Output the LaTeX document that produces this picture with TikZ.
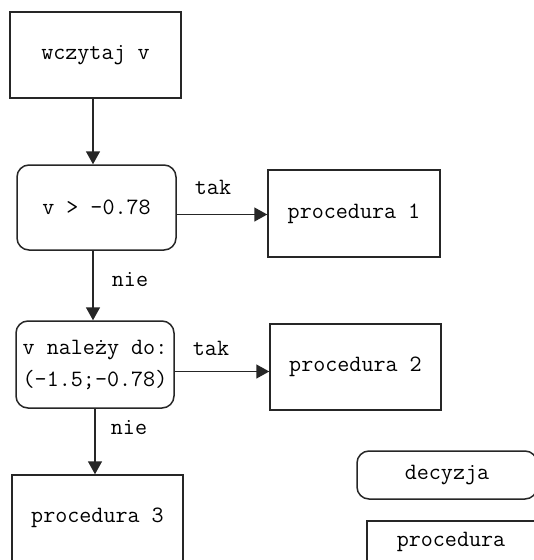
\documentclass[tikz,border=0pt]{standalone}
\usetikzlibrary{arrows.meta}
\begin{document}
\begin{tikzpicture}[x=1pt,y=-1pt,
  every node/.style={font=\ttfamily\fontsize{23.4}{26}\selectfont},
  proc/.style={draw=black!85, line width=1.5pt, rectangle, inner sep=0pt},
  dec/.style={draw=black!85, line width=1.5pt, rectangle, rounded corners=12pt, inner sep=0pt},
  conn/.style={draw=black!85, line width=1.5pt, -{Triangle[length=13pt,width=14pt]}},
  lbl/.style={inner sep=0pt}
]
\useasboundingbox (0,0) rectangle (534,560);
\fill[white] (0,0) rectangle (534,560);

\node[proc, minimum width=171pt, minimum height=86pt] (wcz) at (95.5,55) {wczytaj v};
\node[dec, minimum width=159pt, minimum height=85pt] (d1) at (96.5,207.5) {\raisebox{-3pt}{v > -0.78}};
\node[proc, minimum width=172pt, minimum height=87pt] (p1) at (354,213.5) {procedura 1};
\node[dec, minimum width=158pt, minimum height=87pt, align=center] (d2) at (95,364.5) {v należy do:\\[6pt](-1.5;-0.78)};
\node[proc, minimum width=171pt, minimum height=86pt] (p2) at (355.5,367) {procedura 2};
\node[proc, minimum width=171pt, minimum height=86pt] (p3) at (97.5,518) {procedura 3};

\node[dec, minimum width=180pt, minimum height=48pt] (ld) at (447,475) {decyzja};
\node[proc, minimum width=168pt, minimum height=42pt] (lp) at (451,542) {procedura};

\draw[conn] ([xshift=-2.5pt]wcz.south) -- ([xshift=-2.5pt]wcz.south |- d1.north);
\draw[conn] ([yshift=-7pt]d1.east) -- ([yshift=-7pt]d1.east -| p1.west);
\draw[conn] ([xshift=-3.5pt]d1.south) -- ([xshift=-3.5pt]d1.south |- d2.north);
\draw[conn] ([yshift=-7pt]d2.east) -- ([yshift=-7pt]d2.east -| p2.west);
\draw[conn] (d2.south) -- (d2.south |- p3.north);

\node[lbl] (t1) at (213,187) {tak};
\node[lbl] (n1) at (130,280) {nie};
\node[lbl] (t2) at (211,348) {tak};
\node[lbl] (n2) at (129,428) {nie};
\end{tikzpicture}
\end{document}
